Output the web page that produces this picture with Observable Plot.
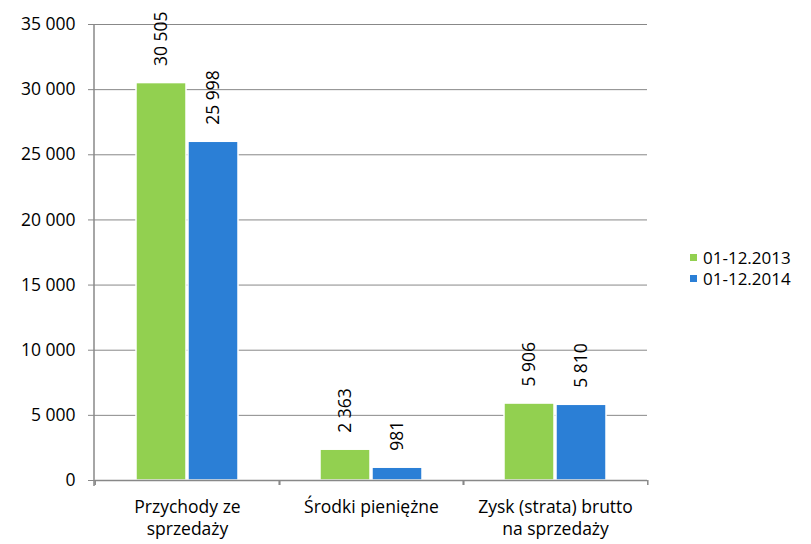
<!DOCTYPE html>
<html>
<head>
<meta charset="utf-8">
<script src="https://cdn.jsdelivr.net/npm/d3@7"></script>
<script src="https://cdn.jsdelivr.net/npm/@observablehq/plot@0.6"></script>
<style>
  html, body { margin: 0; padding: 0; background: #fff; }
  #wrap { position: relative; width: 811px; height: 544px; font-family: "Open Sans", sans-serif; }
  #legend { position: absolute; left: 690px; top: 247px; font-size: 17px; color: #000; }
  #legend div { display: flex; align-items: center; height: 21px; }
  #legend span.sw { display: inline-block; width: 7px; height: 7px; margin-right: 6px; }
</style>
</head>
<body>
<div id="wrap"></div>
<script>
const categories = ["Przychody ze sprzedaży", "Środki pieniężne", "Zysk (strata) brutto na sprzedaży"];
const categoryLabels = ["Przychody ze\nsprzedaży", "Środki pieniężne", "Zysk (strata) brutto\nna sprzedaży"];
const series = ["01-12.2013", "01-12.2014"];
const values2013 = [30505, 2363, 5906];
const values2014 = [25998, 981, 5810];
const colors = ["#92D050", "#2B7FD6"];
const yTicks = [0, 5000, 10000, 15000, 20000, 25000, 30000, 35000];

const data = [];
categories.forEach((c, i) => {
  data.push({cat: c, series: series[0], value: values2013[i]});
  data.push({cat: c, series: series[1], value: values2014[i]});
});

const fmt = d3.formatLocale({thousands: " ", grouping: [3], decimal: ",", currency: ["", ""]}).format(",");

const chart = Plot.plot({
  width: 811,
  height: 544,
  marginLeft: 94,
  marginRight: 163,
  marginTop: 24,
  marginBottom: 64,
  style: {fontFamily: "'Open Sans', sans-serif", fontSize: "17px", color: "#000", background: "#fff"},
  fx: {domain: categories, paddingInner: 0, paddingOuter: 0, label: null, axis: null},
  x: {domain: series, paddingInner: 0.03, paddingOuter: 0.76, axis: null},
  y: {domain: [0, 35000], ticks: yTicks, axis: null, label: null},
  color: {domain: series, range: colors},
  marks: [
    Plot.ruleY(yTicks.slice(1), {stroke: "#888", strokeWidth: 1}),
    Plot.barY(data, {fx: "cat", x: "series", y: "value", fill: "series", stroke: "#fff", strokeWidth: 1.5}),
    Plot.ruleY([0], {stroke: "#888", strokeWidth: 1.5}),
    Plot.text(data, {fx: "cat", x: "series", y: "value", text: d => fmt(d.value), rotate: -90, textAnchor: "start", dy: -17, fontSize: 17.5, fill: "#000"}),
    Plot.axisY({ticks: yTicks, tickFormat: fmt, tickSize: 7, stroke: "#888", tickPadding: 13, fontSize: 17.5, anchor: "left", label: null}),
    Plot.axisFx({anchor: "bottom", tickSize: 5, text: null, stroke: "#888", dx: -92.3, strokeWidth: 1.5, label: null}),
    Plot.axisFx({anchor: "bottom", tickSize: 5, text: null, stroke: "#888", dx: 92.3, strokeWidth: 1.5, label: null}),
    Plot.axisFx({anchor: "bottom", tickSize: 0, tickFormat: d => categoryLabels[categories.indexOf(d)], tickPadding: 17, fontSize: 17.5, lineHeight: 1.25, label: null})
  ]
});

document.getElementById("wrap").appendChild(chart);

// left axis line
const svg = d3.select(chart);
const yScale = chart.scale("y");
const yTop = yScale.apply ? yScale.apply(35000) : 24;
const yBase = yScale.apply ? yScale.apply(0) : 480;
svg.append("line").attr("x1", 94).attr("x2", 94).attr("y1", yTop).attr("y2", yBase + 6).attr("stroke", "#888").attr("stroke-width", 1.5);

const legend = document.createElement("div");
legend.id = "legend";
series.forEach((s, i) => {
  const row = document.createElement("div");
  const sw = document.createElement("span");
  sw.className = "sw";
  sw.style.background = colors[i];
  row.appendChild(sw);
  row.appendChild(document.createTextNode(s));
  legend.appendChild(row);
});
document.getElementById("wrap").appendChild(legend);
</script>
</body>
</html>
